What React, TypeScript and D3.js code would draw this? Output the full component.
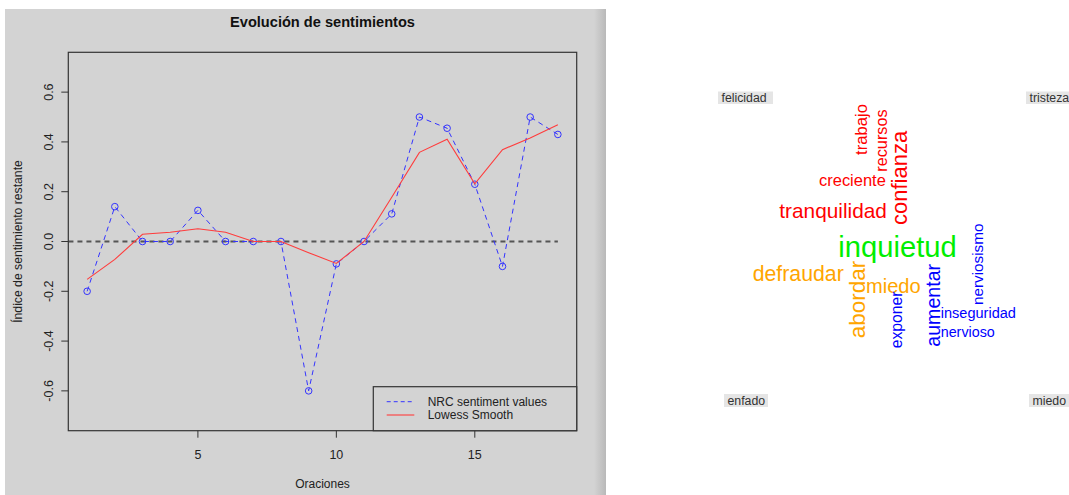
import { scaleLinear, line as d3Line } from "d3";

// valores
const oraciones = [1, 2, 3, 4, 5, 6, 7, 8, 9, 10, 11, 12, 13, 14, 15, 16, 17, 18];
const nrcValues = [-0.2, 0.14, 0, 0, 0.125, 0, 0, 0, -0.6, -0.09, 0, 0.111, 0.5, 0.455, 0.23, -0.1, 0.5, 0.43];
const lowessValues = [-0.152, -0.072, 0.029, 0.037, 0.051, 0.037, 0, 0, -0.045, -0.088, 0, 0.178, 0.358, 0.411, 0.232, 0.369, 0.416, 0.469];
const xTickValues = [5, 10, 15];
const yTickValues = [-0.6, -0.4, -0.2, 0, 0.2, 0.4, 0.6];
const legendLabels = ["NRC sentiment values", "Lowess Smooth"];

// nube de comparación
const cloudTitles = ["felicidad", "tristeza", "enfado", "miedo"];
const cloudWords = [
  "trabajo", "recursos", "confianza", "creciente", "tranquilidad",
  "inquietud", "defraudar", "abordar", "miedo", "exponer",
  "aumentar", "nerviosismo", "inseguridad", "nervioso",
];
const cloudFreq = [1.4, 1.3, 2.5, 1.35, 2.25, 4.0, 2.35, 2.6, 2.1, 1.2, 2.0, 1.1, 0.95, 0.9];
const cloudGroup = [
  "felicidad", "felicidad", "felicidad", "felicidad", "felicidad",
  "sorpresa", "enfado", "enfado", "enfado", "miedo",
  "miedo", "miedo", "miedo", "miedo",
];

const groupColor: Record<string, string> = {
  felicidad: "#ff0000",
  sorpresa: "#00ee00",
  enfado: "#ffa500",
  miedo: "#0000ff",
};

// layout of the cloud: [x, y, rotated]
const cloudLayout: [number, number, boolean][] = [
  [867, 155, true],
  [887, 171.7, true],
  [906.5, 225, true],
  [819, 186, false],
  [779.3, 217.5, false],
  [838.3, 257, false],
  [752.7, 281, false],
  [865, 338.3, true],
  [866, 293, false],
  [902, 348.3, true],
  [940, 346.7, true],
  [983, 305, true],
  [940.7, 317.5, false],
  [940.7, 336.5, false],
];
const titleLayout: [number, number, number, number][] = [
  [718, 91.5, 55, 12.5],
  [1026, 91.5, 45, 12.5],
  [724, 394, 44, 13],
  [1029, 394, 42, 13],
];

const font = "'Liberation Sans', Arial, Helvetica, sans-serif";

export default function App() {
  const box = { left: 68.3, right: 576.7, top: 52.3, bottom: 430.7 };

  const xScale = scaleLinear().domain([0.32, 18.68]).range([box.left, box.right]);
  const yScale = scaleLinear().domain([-0.76, 0.76]).range([box.bottom, box.top]);
  const sizeScale = scaleLinear().domain([0, 4]).range([10, 29.2]);

  const nrcLine = d3Line<number>()
    .x((_, i) => xScale(oraciones[i]))
    .y((d) => yScale(d));

  const nrcPath = nrcLine(nrcValues) ?? "";
  const lowessPath = nrcLine(lowessValues) ?? "";

  const blue = "#3434ff";
  const red = "#ff3c3c";
  const axisColor = "#333";
  const midX = (box.left + box.right) / 2;
  const midY = (box.top + box.bottom) / 2;

  return (
    <svg
      width={1069}
      height={495}
      style={{ position: "absolute", left: 0, top: 0, background: "#fff" }}
      fontFamily={font}
    >
      <defs>
        <linearGradient id="shade" x1="0" x2="1" y1="0" y2="0">
          <stop offset="0" stopColor="#d3d3d3" />
          <stop offset="1" stopColor="#b9b9b9" />
        </linearGradient>
        <clipPath id="plotClip">
          <rect x={box.left} y={box.top} width={box.right - box.left} height={box.bottom - box.top} />
        </clipPath>
      </defs>

      {/* panel gris */}
      <rect x={5} y={9} width={590} height={486} fill="#d3d3d3" />
      <rect x={594} y={9} width={12} height={486} fill="url(#shade)" />

      <text x={midX} y={27} textAnchor="middle" fontWeight="bold" fontSize={14.6} fill="#111">
        Evolución de sentimientos
      </text>

      {/* zero line */}
      <line
        clipPath="url(#plotClip)"
        x1={xScale(0)}
        x2={xScale(18)}
        y1={yScale(0)}
        y2={yScale(0)}
        stroke="#555"
        strokeWidth={1.8}
        strokeDasharray="5,4"
      />

      <path d={nrcPath} fill="none" stroke={blue} strokeWidth={1} strokeDasharray="5,4" />
      {nrcValues.map((v, i) => (
        <circle
          key={`pt-${i}`}
          cx={xScale(oraciones[i])}
          cy={yScale(v)}
          r={3.3}
          fill="none"
          stroke={blue}
          strokeWidth={1}
        />
      ))}
      <path d={lowessPath} fill="none" stroke={red} strokeWidth={1.1} />

      <rect
        x={box.left}
        y={box.top}
        width={box.right - box.left}
        height={box.bottom - box.top}
        fill="none"
        stroke={axisColor}
        strokeWidth={1.2}
      />

      {xTickValues.map((t) => (
        <g key={`xt-${t}`} transform={`translate(${xScale(t)},${box.bottom})`}>
          <line y1={0} y2={7} stroke={axisColor} />
          <text y={28.5} textAnchor="middle" fontSize={12.5} fill="#222">
            {t}
          </text>
        </g>
      ))}
      {yTickValues.map((t) => (
        <g key={`yt-${t}`} transform={`translate(${box.left},${yScale(t)})`}>
          <line x1={-7} x2={0} stroke={axisColor} />
          <text transform="translate(-15,0) rotate(-90)" textAnchor="middle" fontSize={12.5} fill="#222">
            {t.toFixed(1)}
          </text>
        </g>
      ))}

      <text x={midX} y={488} textAnchor="middle" fontSize={12} fill="#222">
        Oraciones
      </text>
      <text transform={`translate(21.5,${midY}) rotate(-90)`} textAnchor="middle" fontSize={12.2} fill="#222">
        Índice de sentimiento restante
      </text>

      {/* legend */}
      <g>
        <rect x={373.3} y={386.7} width={box.right - 373.3} height={box.bottom - 386.7} fill="#d3d3d3" stroke={axisColor} strokeWidth={1.2} />
        <line x1={386.7} x2={414.3} y1={401.7} y2={401.7} stroke={blue} strokeDasharray="4,3" />
        <line x1={386.7} x2={414.3} y1={415} y2={415} stroke={red} strokeWidth={1.1} />
        {legendLabels.map((l, i) => (
          <text key={l} x={427.7} y={405.6 + i * 13.6} fontSize={12} fill="#222">
            {l}
          </text>
        ))}
      </g>

      {/* word cloud */}
      {cloudTitles.map((t, i) => {
        const [x, y, w, h] = titleLayout[i];
        return (
          <g key={`title-${t}`}>
            <rect x={x} y={y} width={w} height={h} fill="#e5e5e5" />
            <text x={x + 3.5} y={y + h - 2} fontSize={12.3} fill="#333">
              {t}
            </text>
          </g>
        );
      })}
      {cloudWords.map((w, i) => {
        const [x, y, rot] = cloudLayout[i];
        return (
          <text
            key={`w-${w}`}
            transform={`translate(${x},${y})${rot ? " rotate(-90)" : ""}`}
            fontSize={sizeScale(cloudFreq[i])}
            fill={groupColor[cloudGroup[i]]}
          >
            {w}
          </text>
        );
      })}
    </svg>
  );
}
